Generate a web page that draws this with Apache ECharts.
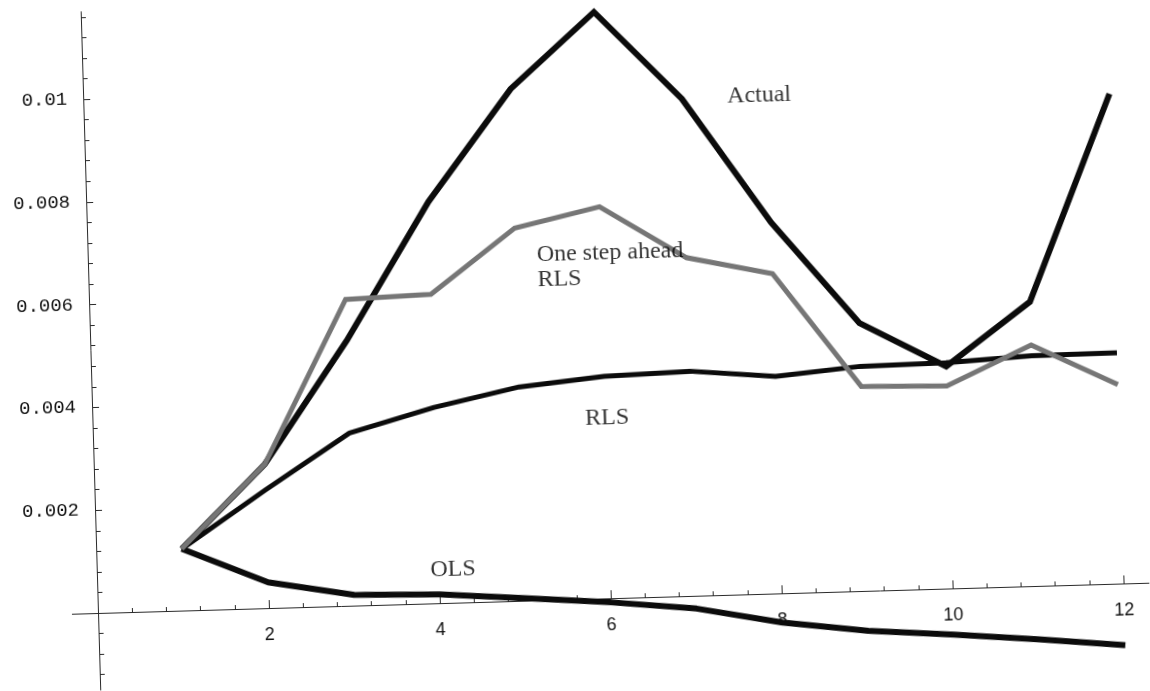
<!DOCTYPE html>
<html>
<head>
<meta charset="utf-8">
<title>Actual vs RLS and OLS</title>
<script src="https://cdn.jsdelivr.net/npm/echarts@6/dist/echarts.min.js"></script>
<style>
  html, body { margin: 0; padding: 0; background: #ffffff; overflow: hidden; }
  /* the plot sits slightly tilted, pivoting on the axes' crossing point */
  #chart { width: 1150px; height: 691px; transform: rotate(-1.65deg); transform-origin: 98px 613px; }
</style>
</head>
<body>
<div id="chart"></div>
<script>
// period index
const periods = [1, 2, 3, 4, 5, 6, 7, 8, 9, 10, 11, 12];
// series values
const actual      = [0.00120, 0.00280, 0.00516, 0.00781, 0.00996, 0.01141, 0.00967, 0.00722, 0.00521, 0.00432, 0.00553, 0.00953];
const oneStepRls  = [0.00120, 0.00280, 0.00596, 0.00601, 0.00725, 0.00762, 0.00658, 0.00622, 0.00398, 0.00394, 0.00469, 0.00387];
const rls         = [0.00120, 0.00230, 0.00336, 0.00381, 0.00416, 0.00432, 0.00437, 0.00422, 0.00437, 0.00439, 0.00448, 0.00449];
const ols         = [0.00120, 0.00050, 0.00021, 0.00017, 0.00005, -0.00008, -0.00025, -0.00057, -0.00078, -0.00090, -0.00104, -0.00120];

// tick labels
const xTickValues = [2, 4, 6, 8, 10, 12];
const xTickLabels = ['2', '4', '6', '8', '10', '12'];
const yTickValues = [0.002, 0.004, 0.006, 0.008, 0.01];
const yTickLabels = ['0.002', '0.004', '0.006', '0.008', '0.01'];

// curve captions: [x, y, text]
const captions = [
  [7.53, 0.0097, 'Actual'],
  [5.25, 0.00648, 'One step ahead\nRLS'],
  [5.76, 0.0035, 'RLS'],
  [3.90, 0.00065, 'OLS']
];

// minor tick positions (five subdivisions per labelled step)
const xMinor = [];
for (let i = 1; i <= 30; i++) xMinor.push(+(i * 0.4).toFixed(4));
const yMinor = [];
for (let i = -3; i <= 29; i++) yMinor.push(+(i * 0.0004).toFixed(6));

const pairs = arr => periods.map((p, i) => [p, arr[i]]);
const pick = (vals, labels) => v => {
  const k = vals.findIndex(t => Math.abs(t - v) < 1e-9);
  return k >= 0 ? labels[k] : '';
};

const axisColor = '#2a2a2a';
const xRange = { min: -0.3, max: 12.3 };
const yRange = { min: -0.0015, max: 0.0117 };

// plot box in pixels; the labelled axes are shifted from the box edges onto the zero lines
const box = { left: 72.35, right: 0.35, top: 11.62, bottom: 0.9 };
const plotW = 1150 - box.left - box.right;
const plotH = 691 - box.top - box.bottom;
const xZeroShift = -plotW * (0 - xRange.min) / (xRange.max - xRange.min);
const yZeroShift = -plotH * (0 - yRange.min) / (yRange.max - yRange.min);

const chart = echarts.init(document.getElementById('chart'), null, { renderer: 'canvas' });

chart.setOption({
  animation: false,
  backgroundColor: '#ffffff',
  grid: Object.assign({ containLabel: false, outerBoundsMode: 'none' }, box),
  xAxis: [
    {
      // axis line on y = 0 with minor ticks
      type: 'value', min: xRange.min, max: xRange.max, position: 'bottom',
      axisLine: { show: true, onZero: true, lineStyle: { color: axisColor, width: 1 } },
      axisTick: { show: true, inside: true, length: 4, customValues: xMinor, lineStyle: { color: axisColor, width: 1 } },
      axisLabel: { show: false },
      splitLine: { show: false }
    },
    {
      // labelled ticks
      type: 'value', min: xRange.min, max: xRange.max, position: 'bottom', offset: yZeroShift,
      axisLine: { show: false, onZero: false },
      axisTick: { show: true, inside: true, length: 8, customValues: xTickValues, lineStyle: { color: axisColor, width: 1 } },
      axisLabel: {
        show: true, margin: 18, customValues: xTickValues,
        formatter: pick(xTickValues, xTickLabels),
        fontFamily: '"Liberation Sans", Arial, sans-serif', fontSize: 18, color: '#111111'
      },
      splitLine: { show: false }
    }
  ],
  yAxis: [
    {
      type: 'value', min: yRange.min, max: yRange.max, position: 'left',
      axisLine: { show: true, onZero: true, lineStyle: { color: axisColor, width: 1 } },
      axisTick: { show: true, inside: true, length: 5, customValues: yMinor, lineStyle: { color: axisColor, width: 1 } },
      axisLabel: { show: false },
      splitLine: { show: false }
    },
    {
      type: 'value', min: yRange.min, max: yRange.max, position: 'left', offset: xZeroShift,
      axisLine: { show: false, onZero: false },
      axisTick: { show: true, inside: true, length: 7, customValues: yTickValues, lineStyle: { color: axisColor, width: 1 } },
      axisLabel: {
        show: true, margin: 16, customValues: yTickValues,
        formatter: pick(yTickValues, yTickLabels),
        padding: [8, 0, 0, 0],
        fontFamily: '"Liberation Mono", "DejaVu Sans Mono", monospace', fontSize: 19, color: '#111111'
      },
      splitLine: { show: false }
    }
  ],
  series: [
    {
      name: 'Actual', type: 'line', data: pairs(actual), symbol: 'none',
      lineStyle: { color: '#0b0b0b', width: 6, join: 'miter', cap: 'butt' }, z: 3
    },
    {
      name: 'RLS', type: 'line', data: pairs(rls), symbol: 'none',
      lineStyle: { color: '#0b0b0b', width: 5, join: 'round' }, z: 3
    },
    {
      name: 'OLS', type: 'line', data: pairs(ols), symbol: 'none',
      lineStyle: { color: '#0b0b0b', width: 6, join: 'round' }, z: 3
    },
    {
      name: 'One step ahead RLS', type: 'line', data: pairs(oneStepRls), symbol: 'none',
      lineStyle: { color: '#767676', width: 5, join: 'miter' }, z: 4
    },
    {
      name: 'captions', type: 'scatter', data: captions, symbolSize: 0, silent: true, z: 5,
      label: {
        show: true, position: 'right', distance: 0,
        formatter: p => p.data[2],
        fontFamily: '"Liberation Serif", "Times New Roman", serif', fontSize: 24,
        color: '#000000', align: 'left', verticalAlign: 'middle', lineHeight: 25
      }
    }
  ]
});
</script>
</body>
</html>
